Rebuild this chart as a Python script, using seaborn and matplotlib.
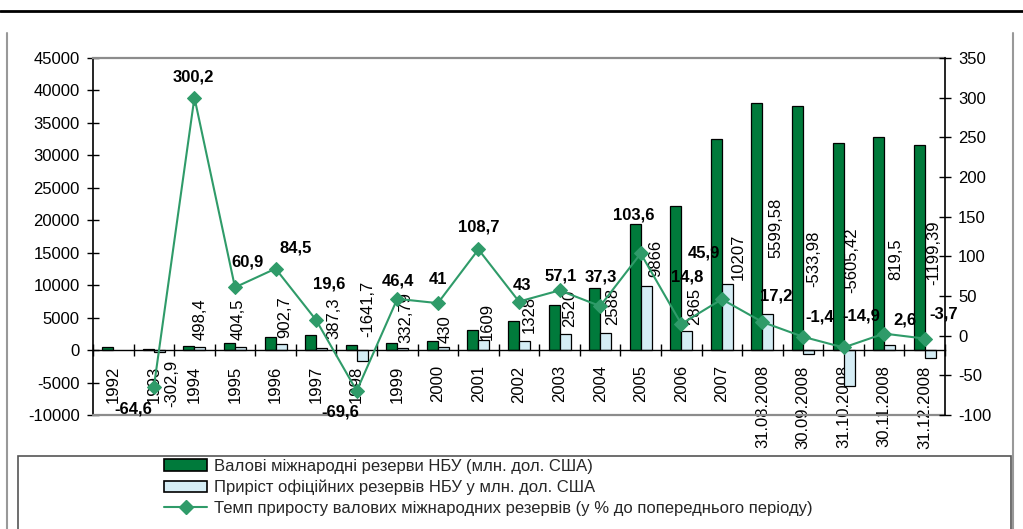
import numpy as np
import pandas as pd
import matplotlib
matplotlib.use("Agg")
import matplotlib.pyplot as plt
import seaborn as sns
from matplotlib.patches import Patch, Rectangle
from matplotlib.lines import Line2D

# ---------------- data ----------------
categories = ["1992", "1993", "1994", "1995", "1996", "1997", "1998", "1999",
              "2000", "2001", "2002", "2003", "2004", "2005", "2006", "2007",
              "31.08.2008", "30.09.2008", "31.10.2008", "30.11.2008", "31.12.2008"]
gross_reserves = [469.6, 162.5, 650.6, 1051.2, 1960.3, 2358.7, 761.3, 1093.7,
                  1475.9, 3089.5, 4416.6, 6936.8, 9524.5, 19390.7, 22256.0, 32479.0,
                  38079.0, 37545.0, 31940.0, 32759.0, 31543.0]
reserve_growth = [np.nan, -302.9, 498.4, 404.5, 902.7, 387.3, -1641.7, 332.79,
                  430, 1609, 1328, 2520, 2588, 9866, 2865, 10207,
                  5599.58, -533.98, -5605.42, 819.5, -1199.39]
rate_periods = categories[1:]
growth_rate = [-64.6, 300.2, 60.9, 84.5, 19.6, -69.6, 46.4, 41, 108.7, 43,
               57.1, 37.3, 103.6, 14.8, 45.9, 17.2, -1.4, -14.9, 2.6, -3.7]
left_ticks = list(range(-10000, 45001, 5000))
right_ticks = list(range(-100, 351, 50))
legend_labels = ["Валові міжнародні резерви НБУ (млн. дол. США)",
                 "Приріст офіційних резервів НБУ у млн. дол. США",
                 "Темп приросту валових міжнародних резервів (у % до попереднього періоду)"]

# ---------------- style ----------------
GREEN = "#007A3B"
LIGHT = "#D5EDF5"
LINE = "#2F9B69"

sns.set_theme(style="white")
plt.rcParams["font.family"] = ["Liberation Sans", "DejaVu Sans"]

W, H = 1023, 529
fig = plt.figure(figsize=(W / 100, H / 100), dpi=100)
L, R, T, B = 93, 945, 58, 415
rect = [L / W, 1 - B / H, (R - L) / W, (B - T) / H]
ax = fig.add_axes(rect)
n = len(categories)

df = pd.DataFrame({
    "period": categories * 2,
    "series": [legend_labels[0]] * n + [legend_labels[1]] * n,
    "value": gross_reserves + reserve_growth,
})
sns.barplot(data=df, x="period", y="value", hue="series", order=categories,
            hue_order=legend_labels[:2], palette=[GREEN, LIGHT], saturation=1,
            width=0.54, gap=0, errorbar=None, edgecolor="black", linewidth=0.9,
            legend=False, ax=ax)

ax.set_xlim(-0.5, n - 0.5)
ax.set_ylim(-10000, 45000)
ax.set_yticks(left_ticks)
ax.set_yticklabels([str(t) for t in left_ticks])
ax.set_xticks(np.arange(-0.5, n, 1))
ax.set_xticklabels([])
ax.set_xticks(np.arange(n), minor=True)
ax.set_xticklabels(categories, minor=True)
ax.tick_params(axis="x", which="major", bottom=True, direction="inout", length=9,
               width=1, color="black")
ax.tick_params(axis="x", which="minor", bottom=True, length=0, pad=11,
               labelsize=12, labelcolor="black", labelrotation=90)
for lab in ax.get_xticklabels(minor=True):
    lab.set_ha("center")
    lab.set_va("top")
ax.tick_params(axis="y", left=True, direction="inout", length=9, width=1,
               color="black", labelsize=12, labelcolor="black", pad=5)
ax.set_xlabel("")
ax.set_ylabel("")
ax.spines["bottom"].set_position(("data", 0))
ax.spines["bottom"].set_color("black")
ax.spines["bottom"].set_linewidth(1)
ax.spines["left"].set_color("black")
ax.spines["left"].set_linewidth(1.2)
ax.spines["top"].set_color("#8c8c8c")
ax.spines["top"].set_linewidth(1.6)
ax.spines["right"].set_visible(False)
ax.plot([-0.5, n - 0.5], [-10000, -10000], color="#8c8c8c", lw=1.6,
        clip_on=False, zorder=3)

# bar labels for reserve growth
blue_label_y = [None, -1540, 1540, 1540, 1850, 1700, 2000, 1080, 1080, 1540,
                2620, 3540, 3850, 11250, 3850, 10790, 14180, 9700, 8780, 10790, 10020]
blue_label_dx = [0, 12, 0, -2, 4, 12, 6, 3, 2, 3, 5, 5, 7, 10, 8, 11, 8, 5, 3, 6, 4]
for i, v in enumerate(reserve_growth):
    if np.isnan(v):
        continue
    txt = f"{v:g}".replace(".", ",")
    va = "top" if blue_label_y[i] < 0 else "bottom"
    ax.annotate(txt, xy=(i + 0.135, blue_label_y[i]), xytext=(blue_label_dx[i], 0),
                textcoords="offset pixels", rotation=90, ha="center", va=va,
                fontsize=12, color="black")

# ---------------- rate line ----------------
ax2 = fig.add_axes(rect)
ax2.patch.set_visible(False)
rate_x = np.arange(1, n)
sns.lineplot(x=rate_x, y=growth_rate, ax=ax2, color=LINE, marker="D",
             markersize=7, markeredgecolor=LINE, linewidth=1.5, sort=False)
ax2.set_xlim(-0.5, n - 0.5)
ax2.set_ylim(-100, 350)
ax2.yaxis.tick_right()
ax2.set_yticks(right_ticks)
ax2.set_yticklabels([str(t) for t in right_ticks])
ax2.set_xticks([])
for s in ["left", "top", "bottom"]:
    ax2.spines[s].set_visible(False)
ax2.spines["right"].set_color("black")
ax2.spines["right"].set_linewidth(1.2)
ax2.tick_params(axis="y", right=True, left=False, direction="inout", length=9,
                width=1, color="black", labelsize=12, labelcolor="black", pad=5)

rate_label_off = [(-21, -22), (-1, 21), (13, 25), (20, 21), (13, 36), (-16, -21),
                  (1, 18), (0, 24), (0, 22), (3, 16), (1, 14), (1, 29), (-7, 38),
                  (6, 47), (-18, 46), (14, 26), (17, 20), (18, 31), (21, 14), (19, 25)]
for x, v, off in zip(rate_x, growth_rate, rate_label_off):
    ax2.annotate(f"{v:g}".replace(".", ","), xy=(x, v), xytext=off,
                 textcoords="offset pixels", ha="center", va="center",
                 fontsize=12, fontweight="bold", color="black",
                 annotation_clip=False)

# ---------------- legend & frame ----------------
handles = [Patch(facecolor=GREEN, edgecolor="black", lw=1.2),
           Patch(facecolor=LIGHT, edgecolor="black", lw=1.2),
           Line2D([], [], color=LINE, marker="D", markersize=7, lw=1.5)]
fig.legend(handles, legend_labels, loc="upper left",
           bbox_to_anchor=(164 / W, 1 - 459 / H), frameon=False, fontsize=12,
           handlelength=2.6, handletextpad=0.4, labelspacing=0.35,
           borderpad=0, borderaxespad=0)

fig.add_artist(Rectangle((18 / W, -0.05), (1011 - 18) / W, (529 - 456) / H + 0.05,
                         transform=fig.transFigure, fill=False,
                         edgecolor="#555555", lw=1.2))
fig.add_artist(Line2D([7 / W, 7 / W], [0, 1 - 33 / H], transform=fig.transFigure,
                      color="#999999", lw=1.5))
fig.add_artist(Line2D([1013 / W, 1013 / W], [0, 1 - 33 / H], transform=fig.transFigure,
                      color="#999999", lw=1.5))
fig.add_artist(Line2D([0, 1], [1 - 11 / H, 1 - 11 / H], transform=fig.transFigure,
                      color="black", lw=2))

fig.savefig("out.png", dpi=100)
